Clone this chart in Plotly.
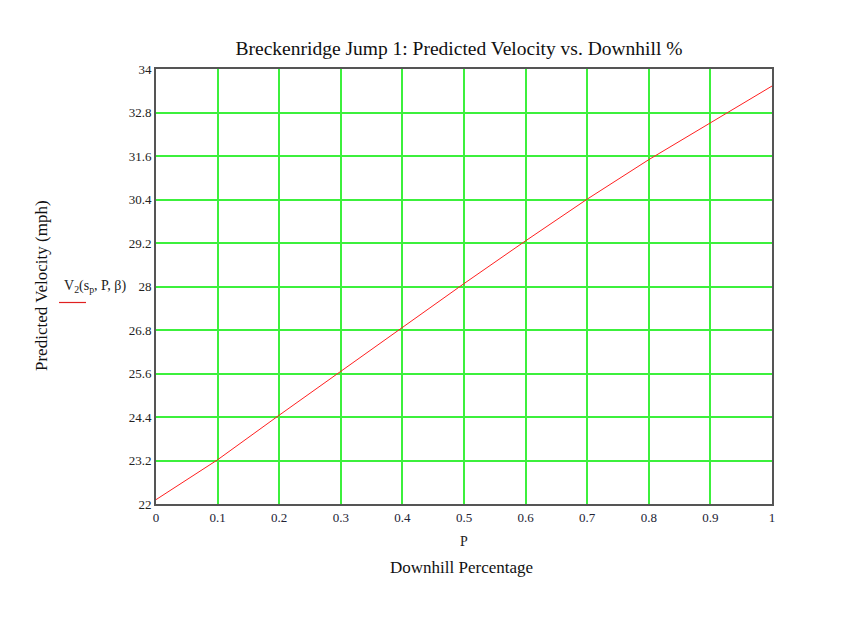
import plotly.graph_objects as go

# Data
downhill_pct = [0.0, 0.1, 0.2, 0.3, 0.4, 0.5, 0.6, 0.7, 0.8, 0.9, 1.0]
velocity_mph = [22.12, 23.22, 24.45, 25.66, 26.88, 28.08, 29.26, 30.41, 31.50, 32.52, 33.53]

x_ticks = [0, 0.1, 0.2, 0.3, 0.4, 0.5, 0.6, 0.7, 0.8, 0.9, 1.0]
x_tick_text = ["0", "0.1", "0.2", "0.3", "0.4", "0.5", "0.6", "0.7", "0.8", "0.9", "1"]
y_ticks = [22, 23.2, 24.4, 25.6, 26.8, 28, 29.2, 30.4, 31.6, 32.8, 34]
y_tick_text = ["22", "23.2", "24.4", "25.6", "26.8", "28", "29.2", "30.4", "31.6", "32.8", "34"]

serif = "Liberation Serif, Times New Roman, serif"
grid_green = "#3cf03c"

# page body has an 8px margin, so the figure is shifted by 8px
OFF = 8
W, H = 862 - OFF, 619 - OFF
L, T = 156 - OFF, 69 - OFF
PW, PH = 616, 435


def px(xp):
    return (xp - OFF - L) / PW


def py(yp):
    return (T + PH - (yp - OFF)) / PH


fig = go.Figure()
fig.add_trace(go.Scatter(
    x=downhill_pct, y=velocity_mph, mode="lines",
    line=dict(color="#ff2020", width=1), showlegend=False, hoverinfo="skip"))

fig.update_layout(
    width=W, height=H,
    paper_bgcolor="white", plot_bgcolor="white",
    margin=dict(l=L, r=W - L - PW, t=T, b=H - T - PH),
    title=dict(text="Breckenridge Jump 1: Predicted Velocity vs. Downhill %",
               x=px(459), xref="paper", xanchor="center",
               y=1 - (48 - OFF) / H, yref="container", yanchor="middle",
               font=dict(family=serif, size=19.5, color="#111")),
    font=dict(family=serif, size=12, color="#222"),
)

fig.update_xaxes(
    range=[0, 1], tickvals=x_ticks, ticktext=x_tick_text,
    showgrid=True, gridcolor=grid_green, gridwidth=1.5,
    showline=True, linecolor="#555", linewidth=2, mirror=True,
    zeroline=False, ticks="", tickfont=dict(family=serif, size=13, color="#223"),
)
fig.update_yaxes(
    range=[22, 34], tickvals=y_ticks, ticktext=y_tick_text,
    showgrid=True, gridcolor=grid_green, gridwidth=1.5,
    showline=True, linecolor="#555", linewidth=2, mirror=True,
    zeroline=False, ticks="", tickfont=dict(family=serif, size=13, color="#222"),
)

common = dict(xref="paper", yref="paper", xanchor="center", yanchor="middle", showarrow=False)

# axis labels
fig.add_annotation(text="P", x=px(464), y=py(541),
                   font=dict(family=serif, size=14, color="#222"), **common)
fig.add_annotation(text="Downhill Percentage", x=px(461), y=py(567),
                   font=dict(family=serif, size=17, color="#111"), **common)
fig.add_annotation(text="Predicted Velocity (mph)", x=px(41), y=py(286), textangle=-90,
                   font=dict(family=serif, size=17, color="#111"), **common)
fig.add_annotation(text="V<sub>2</sub>(s<sub>p</sub>, P, β)", x=px(95), y=py(286),
                   font=dict(family=serif, size=14, color="#222"), **common)
fig.add_shape(type="line", xref="paper", yref="paper",
              x0=px(59), x1=px(86), y0=py(302.5), y1=py(302.5),
              line=dict(color="#e02020", width=1.2))

fig.write_html("out.html")
